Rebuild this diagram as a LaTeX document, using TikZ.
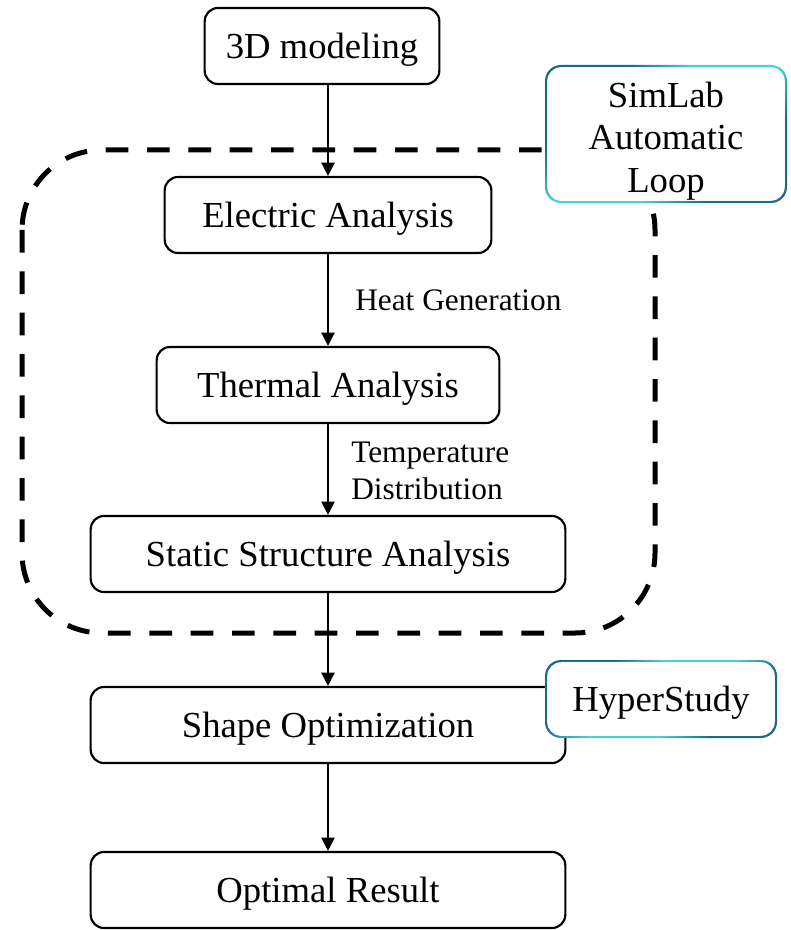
\documentclass[tikz,border=0pt]{standalone}
\usepackage{fontspec}
\setmainfont{Liberation Serif}
\usetikzlibrary{arrows.meta}
\definecolor{tealdark}{HTML}{1B6A86}
\definecolor{teallight}{HTML}{48D2DE}
% dark ends, light middle: used for the gradient borders
\pgfdeclarehorizontalshading{toolgrad}{100bp}{color(0bp)=(tealdark); color(30bp)=(tealdark);
  color(42bp)=(teallight); color(58bp)=(teallight); color(70bp)=(tealdark); color(100bp)=(tealdark)}
\begin{document}
\begin{tikzpicture}[x=0.75pt,y=-0.75pt,
  stepbox/.style={draw, line width=1.6pt, rounded corners=10pt, fill=white,
    minimum height=57pt, inner sep=0pt, text height=18.2pt, text depth=0pt,
    font=\fontsize{27.5}{33}\selectfont},
  labeltext/.style={inner sep=0pt, align=left, font=\fontsize{23.5}{27.75}\selectfont},
  tooltext/.style={inner sep=0pt, align=center, font=\fontsize{27.5}{32}\selectfont},
  toolring/.style={shading=toolgrad, shading angle=-45, rounded corners=12pt},
  flow/.style={line width=1.1pt, -{Triangle[length=10pt,width=10pt]}},
  loopline/.style={line width=3.75pt, dash pattern=on 17pt off 14pt, rounded corners=60pt}]
\useasboundingbox (0,0) rectangle (790,930);

% automatic loop boundary
\draw[loopline] (22,150) rectangle (655,633);

% analysis chain
\node[stepbox, minimum width=176pt] (model)  at (322,46)  {3D modeling};
\node[stepbox, minimum width=245pt] (elec)   at (328,215) {Electric Analysis};
\node[stepbox, minimum width=257pt] (therm)  at (328,385) {Thermal Analysis};
\node[stepbox, minimum width=356pt] (static) at (328,554) {Static Structure Analysis};
\node[stepbox, minimum width=356pt] (shape)  at (328,725) {Shape Optimization};
\node[stepbox, minimum width=356pt] (result) at (328,890) {Optimal Result};

\draw[flow] (model.south -| elec.north) -- (elec.north);
\draw[flow] (elec.south) -- (therm.north);
\draw[flow] (therm.south) -- (static.north);
\draw[flow] (static.south) -- (shape.north);
\draw[flow] (shape.south) -- (result.north);

\node[labeltext, anchor=west] (heat) at (355,300) {Heat Generation};
\node[labeltext, anchor=west] (temp) at (351,471) {Temperature\\Distribution};

% software boxes with gradient borders
\coordinate (slc) at (666,134);
\shade[toolring] ([shift={(-90.75pt,51.75pt)}]slc) rectangle ([shift={(90.75pt,-51.75pt)}]slc);
\fill[white, rounded corners=10.5pt] ([shift={(-89.1pt,50.1pt)}]slc) rectangle ([shift={(89.1pt,-50.1pt)}]slc);
\node[tooltext] (simlab) at (666,141) {SimLab\\Automatic\\Loop};

\coordinate (hsc) at (661,699);
\shade[toolring] ([shift={(-87pt,29.25pt)}]hsc) rectangle ([shift={(87pt,-29.25pt)}]hsc);
\fill[white, rounded corners=10.5pt] ([shift={(-85.35pt,27.6pt)}]hsc) rectangle ([shift={(85.35pt,-27.6pt)}]hsc);
\node[tooltext, text height=18.2pt, text depth=0pt] (hyper) at (hsc) {HyperStudy};
\end{tikzpicture}
\end{document}
